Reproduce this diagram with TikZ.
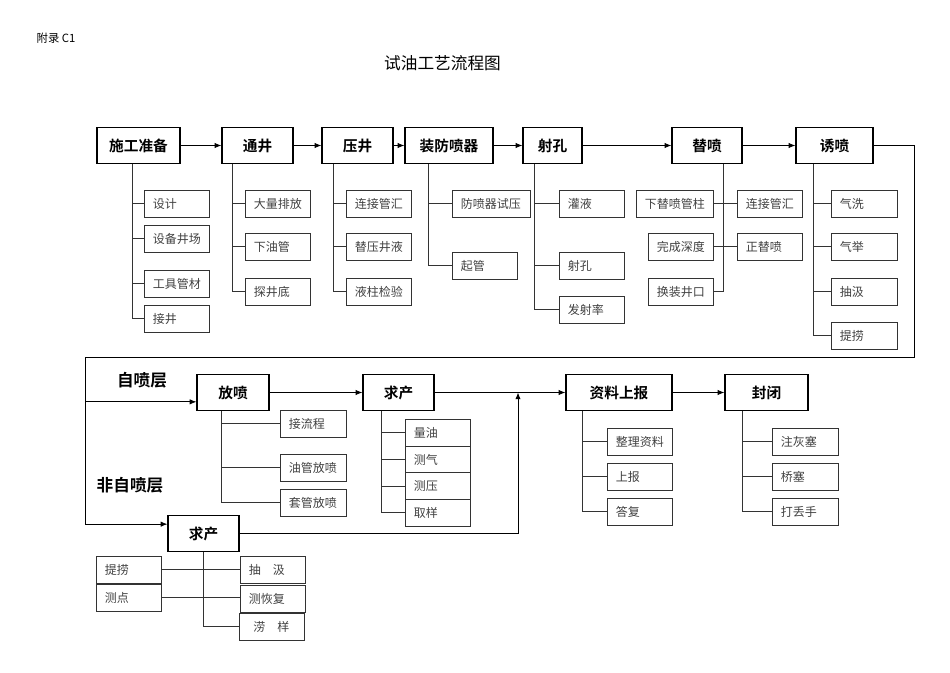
\documentclass[tikz,border=0pt]{standalone}
\usepackage{fontspec}
\newfontfamily\cjk{Noto Sans CJK SC}[BoldFont={Noto Sans CJK SC Bold}]
\usetikzlibrary{arrows.meta}
\newcommand\hdfont{\cjk\bfseries\fontsize{11}{13}\selectfont}
\newcommand\sbfont{\cjk\fontsize{9}{11}\selectfont}
\tikzset{
  mainbox/.style={draw, line width=0.9pt, minimum width=0.75pt*#1, minimum height=26.5pt, inner sep=0pt, font=\hdfont},
  subbox/.style={draw=black!80, line width=0.6pt, anchor=north west, inner xsep=6.4pt, inner ysep=0pt,
    minimum height=20pt, text width=#1, align=left, font=\sbfont, text=black!75},
  subbox/.default=36pt,
  arr/.style={line width=0.7pt, -{Latex[length=5pt,width=4pt]}},
  branch/.style={black!80, line width=0.6pt}
}
\begin{document}
\begin{tikzpicture}[x=0.75pt,y=-0.75pt]
\useasboundingbox (0,0) rectangle (950,672);

\node[font=\cjk\fontsize{8.5}{10}\selectfont, anchor=west] (fl) at (32,38) {附录 C1};
\node[font=\cjk\fontsize{12.5}{15}\selectfont] (title) at (442.5,63) {试油工艺流程图};

% top row
\node[mainbox=83] (prep) at (138.5,145.5) {施工准备};
\node[mainbox=71] (tj) at (257.5,145.5) {通井};
\node[mainbox=71] (yj) at (357.5,145.5) {压井};
\node[mainbox=88] (zf) at (449,145.5) {装防喷器};
\node[mainbox=59] (sk) at (552.5,145.5) {射孔};
\node[mainbox=70] (tp) at (707,145.5) {替喷};
\node[mainbox=77] (yp) at (834.5,145.5) {诱喷};
\foreach \a/\b in {prep/tj,tj/yj,yj/zf,zf/sk,sk/tp,tp/yp}
    \draw[arr] (\a) -- (\b);

\node[subbox] (prep1) at (144,190) {设计};
\node[subbox] (prep2) at (144,225) {设备井场};
\node[subbox] (prep3) at (144,270) {工具管材};
\node[subbox] (prep4) at (144,305) {接井};
\draw[branch] ([xshift=27pt]prep.south west) coordinate (v) -- (v |- prep4.west);
\foreach \n in {prep1,prep2,prep3,prep4}
    \draw[branch] (v |- \n.west) -- (\n.west);

\node[subbox] (tj1) at (245,190) {大量排放};
\node[subbox] (tj2) at (245,233) {下油管};
\node[subbox] (tj3) at (245,278) {探井底};
\draw[branch] ([xshift=8.25pt]tj.south west) coordinate (v) -- (v |- tj3.west);
\foreach \n in {tj1,tj2,tj3}
    \draw[branch] (v |- \n.west) -- (\n.west);

\node[subbox] (yj1) at (346,190) {连接管汇};
\node[subbox] (yj2) at (346,233) {替压井液};
\node[subbox] (yj3) at (346,278) {液柱检验};
\draw[branch] ([xshift=9pt]yj.south west) coordinate (v) -- (v |- yj3.west);
\foreach \n in {yj1,yj2,yj3}
    \draw[branch] (v |- \n.west) -- (\n.west);

\node[subbox=45.7pt] (zf1) at (452,190) {防喷器试压};
\node[subbox] (zf2) at (452,252) {起管};
\draw[branch] ([xshift=18pt]zf.south west) coordinate (v) -- (v |- zf2.west);
\foreach \n in {zf1,zf2}
    \draw[branch] (v |- \n.west) -- (\n.west);

\node[subbox] (sk1) at (559,190) {灌液};
\node[subbox] (sk2) at (559,252) {射孔};
\node[subbox] (sk3) at (559,296) {发射率};
\draw[branch] ([xshift=9pt]sk.south west) coordinate (v) -- (v |- sk3.west);
\foreach \n in {sk1,sk2,sk3}
    \draw[branch] (v |- \n.west) -- (\n.west);

\node[subbox=45pt] (tp1) at (636,190) {下替喷管柱};
\node[subbox] (tp2) at (648,233) {完成深度};
\node[subbox] (tp3) at (648,278) {换装井口};
\node[subbox] (tp4) at (737,190) {连接管汇};
\node[subbox] (tp5) at (737,233) {正替喷};
\draw[branch] ([xshift=39pt]tp.south west) coordinate (v) -- (v |- tp3.east) -- (tp3.east);
\draw[branch] (tp1.east) -- (tp4.west);
\draw[branch] (tp2.east) -- (tp5.west);

\node[subbox=36.7pt] (yp1) at (831,190) {气洗};
\node[subbox=36.7pt] (yp2) at (831,233) {气举};
\node[subbox=36.7pt] (yp3) at (831,278) {抽汲};
\node[subbox=36.7pt] (yp4) at (831,322) {提捞};
\draw[branch, line width=1pt] ([xshift=13.5pt]yp.south west) coordinate (v) -- (v |- yp4.west);
\foreach \n in {yp1,yp2,yp3,yp4}
    \draw[branch] (v |- \n.west) -- (\n.west);

% second row
\node[mainbox=72] (fp) at (233,392.5) {放喷};
\node[mainbox=71] (qc1) at (398.5,392.5) {求产};
\node[mainbox=106] (zl) at (619,392.5) {资料上报};
\node[mainbox=83] (fb) at (766.5,392.5) {封闭};
\node[mainbox=71] (qc2) at (203.5,533.5) {求产};
\foreach \a/\b in {fp/qc1,qc1/zl,zl/fb}
    \draw[arr] (\a) -- (\b);

\node[font=\cjk\bfseries\fontsize{12.5}{14}\selectfont] (zp) at (142,380) {自喷层};
\node[font=\cjk\bfseries\fontsize{12.5}{14}\selectfont] (fzp) at (130,485) {非自喷层};

% loop from the top row down to the second row
\coordinate (cR) at (914,357);
\coordinate (cL) at (85,357);
\coordinate (fpin) at ([yshift=-7pt]fp.west);
\coordinate (mg) at (518,392.5);
\draw[arr, line width=0.6pt] (yp.east) -| (cR) -- (cL) |- ([yshift=7pt]qc2.west);
\draw[arr, line width=0.6pt] (cL |- fpin) -- (fpin);
\draw[arr, line width=0.6pt] (qc2.east) -| (mg);

\node[subbox=36.7pt] (fp1) at (280,410) {接流程};
\node[subbox=36.7pt] (fp2) at (280,454) {油管放喷};
\node[subbox=36.7pt] (fp3) at (280,489) {套管放喷};
\draw[branch] ([xshift=18.75pt]fp.south west) coordinate (v) -- (v |- fp3.west);
\foreach \n in {fp1,fp2,fp3}
    \draw[branch] (v |- \n.west) -- (\n.west);

\node[subbox] (qc1a) at (405,419) {量油};
\node[subbox] (qc1b) at (405,445.7) {测气};
\node[subbox] (qc1c) at (405,472.3) {测压};
\node[subbox] (qc1d) at (405,499) {取样};
\draw[branch] ([xshift=14.25pt]qc1.south west) coordinate (v) -- (v |- qc1d.west);
\foreach \n in {qc1a,qc1b,qc1c,qc1d}
    \draw[branch] (v |- \n.west) -- (\n.west);

\node[subbox] (zl1) at (607,428) {整理资料};
\node[subbox] (zl2) at (607,463) {上报};
\node[subbox] (zl3) at (607,498) {答复};
\draw[branch] ([xshift=12.75pt]zl.south west) coordinate (v) -- (v |- zl3.west);
\foreach \n in {zl1,zl2,zl3}
    \draw[branch] (v |- \n.west) -- (\n.west);

\node[subbox=36.7pt] (fb1) at (772,428) {注灰塞};
\node[subbox=36.7pt] (fb2) at (772,463) {桥塞};
\node[subbox=36.7pt] (fb3) at (772,498) {打丢手};
\draw[branch] ([xshift=13.5pt]fb.south west) coordinate (v) -- (v |- fb3.west);
\foreach \n in {fb1,fb2,fb3}
    \draw[branch] (v |- \n.west) -- (\n.west);

\node[subbox] (qc2a) at (96,556) {提捞};
\node[subbox] (qc2b) at (96,584) {测点};
\node[subbox] (qc2c) at (240,556) {抽\hspace{9pt}汲};
\node[subbox] (qc2d) at (240,585) {测恢复};
\node[subbox] (qc2e) at (239,613) {\hspace{4pt}涝\hspace{9pt}样};
\draw[branch] (qc2.south) -- (qc2.south |- qc2e.west) -- (qc2e.west);
\draw[branch] (qc2a.east) -- (qc2a.east -| qc2c.west);
\draw[branch] (qc2b.east) -- (qc2b.east -| qc2d.west);

\end{tikzpicture}
\end{document}
